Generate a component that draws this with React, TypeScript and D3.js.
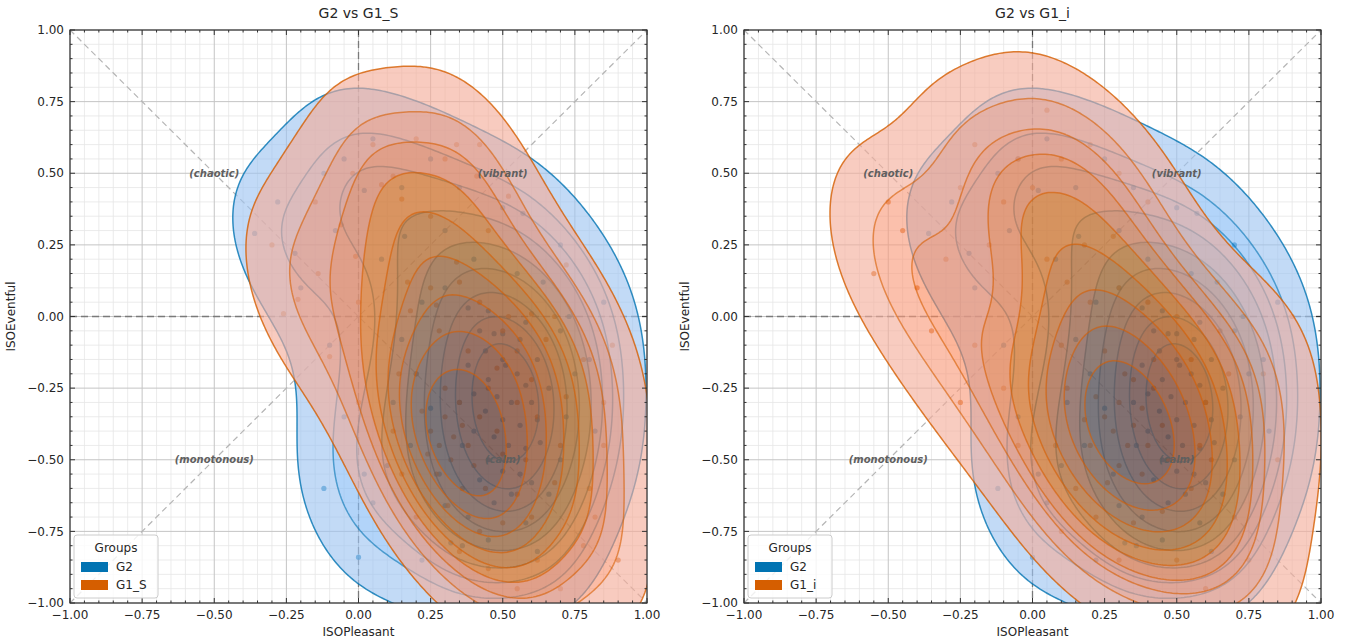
import React, { useEffect, useRef } from "react";
import * as d3 from "d3";

// scatter points: [ISOPleasant, ISOEventful]
const G2: [number, number][] = [
  [0.42, -0.05], [0.47, -0.06], [0.5, -0.06], [0.38, -0.17], [0.44, -0.12], [0.5, -0.15], [0.51, -0.17],
  [0.55, -0.2], [0.58, -0.24], [0.45, -0.22], [0.4, -0.27], [0.48, -0.28], [0.53, -0.3], [0.6, -0.3],
  [0.44, -0.33], [0.5, -0.36], [0.56, -0.38], [0.62, -0.36], [0.4, -0.4], [0.47, -0.42], [0.52, -0.45],
  [0.58, -0.46], [0.63, -0.44], [0.45, -0.5], [0.5, -0.54], [0.56, -0.55], [0.42, -0.57], [0.6, -0.58],
  [0.36, -0.45], [0.53, -0.62], [0.47, -0.65], [0.35, -0.3], [0.66, -0.25], [0.62, -0.15], [0.56, -0.08],
  [0.38, 0.03], [0.45, 0.02], [0.58, -0.02],
  [0.2, -0.2], [0.25, -0.32], [0.18, -0.45], [0.28, -0.55], [0.3, -0.66], [0.38, -0.7], [0.58, -0.72],
  [0.66, -0.62], [0.7, -0.5], [0.72, -0.35], [0.75, -0.2], [0.7, -0.05], [0.73, 0.0], [0.64, 0.12],
  [0.3, 0.1], [0.22, 0.05], [0.15, -0.08], [0.12, -0.3], [0.1, -0.52], [0.05, -0.65], [0.32, -0.79],
  [0.36, -0.8], [0.22, -0.85], [0.45, -0.78], [0.62, -0.82], [0.82, -0.4], [0.8, -0.15], [0.85, 0.05],
  [0.16, 0.28], [0.15, 0.45], [0.02, 0.44], [0.5, 0.38], [0.57, 0.36], [0.3, 0.3], [0.4, 0.2],
  [0.08, 0.2], [-0.05, 0.55], [0.25, 0.55], [0.7, 0.25], [0.35, 0.45], [0.55, 0.15], [-0.08, 0.3],
  [-0.36, 0.29], [-0.2, 0.1], [-0.1, -0.1], [-0.05, -0.35], [0.0, -0.84], [0.02, -0.55], [-0.12, -0.6],
  [-0.28, 0.4], [-0.22, 0.22], [-0.12, 0.5], [0.05, 0.62],
];

const G1_S: [number, number][] = [
  [0.3, -0.35], [0.33, -0.42], [0.36, -0.38], [0.38, -0.45], [0.28, -0.45], [0.32, -0.5], [0.4, -0.52],
  [0.25, -0.4], [0.22, -0.33], [0.35, -0.3], [0.42, -0.35], [0.45, -0.25], [0.3, -0.25], [0.27, -0.55],
  [0.36, -0.6], [0.44, -0.6], [0.5, -0.48], [0.48, -0.4], [0.24, -0.48], [0.31, -0.66],
  [0.2, -0.2], [0.18, 0.02], [0.25, 0.1], [0.35, 0.12], [0.42, 0.05], [0.5, -0.05], [0.55, -0.12],
  [0.6, -0.22], [0.62, -0.35], [0.58, -0.5], [0.55, -0.62], [0.6, -0.7], [0.5, -0.72], [0.42, -0.75],
  [0.35, -0.82], [0.45, -0.88], [0.62, -0.85], [0.68, -0.58], [0.7, -0.45], [0.72, -0.28], [0.65, -0.08],
  [0.15, -0.55], [0.12, -0.4], [0.14, -0.2], [0.2, -0.7], [0.55, -0.3], [0.48, -0.18], [0.38, -0.12],
  [0.28, -0.05], [0.52, 0.0],
  [0.34, 0.6], [0.41, 0.49], [0.12, 0.49], [0.08, 0.46], [0.15, 0.41], [-0.06, 0.32], [-0.01, 0.21],
  [0.17, 0.12], [0.34, 0.19], [0.27, 0.04], [0.72, 0.18], [0.68, 0.0], [0.6, 0.01], [0.25, 0.35],
  [0.05, 0.6], [0.45, 0.3], [0.2, 0.62], [0.0, 0.05], [0.3, 0.55], [-0.02, 0.5], [-0.15, 0.4],
  [0.42, 0.6], [0.52, 0.42],
  [-0.14, 0.15], [-0.21, 0.06], [-0.26, 0.01], [-0.1, -0.14], [-0.3, 0.25], [0.0, -0.3],
  [0.8, -0.6], [0.78, -0.8], [0.85, -0.3], [0.7, -0.95], [0.55, -0.95], [0.88, -0.1],
  [0.85, -0.45], [0.82, -0.7], [0.9, -0.85], [0.78, -0.15],
];

const G1_I: [number, number][] = [
  [0.3, -0.3], [0.35, -0.38], [0.38, -0.32], [0.28, -0.4], [0.33, -0.45], [0.4, -0.45], [0.25, -0.35],
  [0.22, -0.28], [0.35, -0.22], [0.42, -0.25], [0.3, -0.52], [0.38, -0.55], [0.45, -0.38], [0.2, -0.45],
  [0.26, -0.58], [0.32, -0.2], [0.18, -0.36], [0.47, -0.5], [0.42, -0.15], [0.25, -0.12],
  [0.1, -0.1], [0.12, -0.25], [0.08, -0.45], [0.15, -0.6], [0.22, -0.7], [0.35, -0.72], [0.45, -0.68],
  [0.55, -0.6], [0.58, -0.45], [0.6, -0.3], [0.55, -0.15], [0.5, 0.0], [0.4, 0.05], [0.3, 0.1],
  [0.2, 0.05], [0.12, 0.12], [0.05, 0.2], [0.18, 0.25], [0.28, 0.28], [0.65, -0.05], [0.68, -0.2],
  [0.7, -0.7], [0.5, -0.85], [0.3, -0.85], [0.62, -0.5],
  [-0.05, 0.55], [0.0, 0.45], [-0.1, 0.4], [0.1, 0.55], [0.2, 0.6], [0.3, 0.5], [-0.2, 0.6],
  [0.05, 0.72], [-0.15, 0.25], [-0.25, 0.45], [0.4, 0.4], [-0.3, 0.2],
  [-0.45, 0.3], [-0.55, 0.15], [-0.4, 0.1], [-0.35, -0.05], [-0.2, -0.1], [-0.1, -0.25], [-0.05, -0.45],
  [-0.5, 0.4], [-0.25, -0.3],
  [0.8, -0.2], [0.85, -0.5], [0.75, -0.85], [0.9, 0.0], [0.6, -0.95], [0.1, -0.75],
];

const PANEL_TITLES = ["G2 vs G1_S", "G2 vs G1_i"];
const SECOND_NAMES = ["G1_S", "G1_i"];
const SECOND_POINTS = [G1_S, G1_I];
const QUADRANTS: [string, number, number][] = [
  ["(chaotic)", -0.5, 0.5],
  ["(vibrant)", 0.5, 0.5],
  ["(monotonous)", -0.5, -0.5],
  ["(calm)", 0.5, -0.5],
];

const BLUE = "#0173B2";
const ORANGE = "#D55E00";
const FONT = "DejaVu Sans, sans-serif";

const W = 1347;
const H = 640;
const PANEL_LEFT = [70, 744];
const PLOT_W = 577;
const PLOT_TOP = 30;
const PLOT_H = 573;

// kde grid
const NG = 220;
const LO = -1.1;
const HI = 1.1;
const BW_ADJUST = 1.2;
const FILL_ALPHA = 0.62;

// --- husl, as seaborn uses it for its fill colormap ---
const M = [
  [3.240969941904521, -1.537383177570093, -0.498610760293],
  [-0.96924363628087, 1.87596750150772, 0.041555057407175],
  [0.055630079696993, -0.20397695888897, 1.056971514242878],
];
const MINV = [
  [0.41239079926595, 0.35758433938387, 0.18048078840183],
  [0.21263900587151, 0.71516867876775, 0.072192315360733],
  [0.019330818715591, 0.11919477979462, 0.95053215224966],
];
const REF_U = 0.19783000664283;
const REF_V = 0.46831999493879;
const KAPPA = 903.2962962;
const EPS = 0.0088564516;

function maxChroma(L: number, Hdeg: number) {
  const h = (Hdeg / 360) * Math.PI * 2;
  const sub1 = Math.pow(L + 16, 3) / 1560896;
  const sub2 = sub1 > EPS ? sub1 : L / KAPPA;
  let min = Infinity;
  for (const [m1, m2, m3] of M) {
    for (const t of [0, 1]) {
      const top1 = (284517 * m1 - 94839 * m3) * sub2;
      const top2 = (838422 * m3 + 769860 * m2 + 731718 * m1) * L * sub2 - 769860 * t * L;
      const bottom = (632260 * m3 - 126452 * m2) * sub2 + 126452 * t;
      const len = top2 / bottom / (Math.sin(h) - (top1 / bottom) * Math.cos(h));
      if (len >= 0) min = Math.min(min, len);
    }
  }
  return min;
}

const toLin = (c: number) => (c > 0.04045 ? Math.pow((c + 0.055) / 1.055, 2.4) : c / 12.92);
const fromLin = (c: number) => (c <= 0.0031308 ? 12.92 * c : 1.055 * Math.pow(c, 1 / 2.4) - 0.055);

function rgbToHusl(hex: string) {
  const c = d3.rgb(hex);
  const lin = [toLin(c.r / 255), toLin(c.g / 255), toLin(c.b / 255)];
  const [X, Y, Z] = MINV.map((r) => r[0] * lin[0] + r[1] * lin[1] + r[2] * lin[2]);
  const L = Y <= EPS ? Y * KAPPA : 116 * Math.cbrt(Y) - 16;
  const d = X + 15 * Y + 3 * Z;
  const U = 13 * L * ((4 * X) / d - REF_U);
  const V = 13 * L * ((9 * Y) / d - REF_V);
  let Hd = (Math.atan2(V, U) * 180) / Math.PI;
  if (Hd < 0) Hd += 360;
  return [Hd, (Math.hypot(U, V) / maxChroma(L, Hd)) * 100, L];
}

function huslToHex(Hd: number, S: number, L: number) {
  const C = (maxChroma(L, Hd) / 100) * S;
  const h = (Hd / 180) * Math.PI;
  const U = C * Math.cos(h);
  const V = C * Math.sin(h);
  const Y = L <= 8 ? L / KAPPA : Math.pow((L + 16) / 116, 3);
  const vu = U / (13 * L) + REF_U;
  const vv = V / (13 * L) + REF_V;
  const X = -(9 * Y * vu) / ((vu - 4) * vv - vu * vv);
  const Z = (9 * Y - 15 * vv * Y - vv * X) / (3 * vv);
  const [r, g, b] = M.map((m) => Math.max(0, Math.min(1, fromLin(m[0] * X + m[1] * Y + m[2] * Z))));
  return d3.rgb(r * 255, g * 255, b * 255).formatHex();
}

// seaborn _cmap_from_color: light (low density) to dark (high density)
function cmapFromColor(hex: string) {
  const [h, s] = rgbToHusl(hex);
  return (u: number) => {
    const j = Math.round((1 - u) * 255);
    const xx = -1 + (2 * j) / 293;
    return huslToHex(h, s * Math.cos(xx), 35 + (45 * j) / 255);
  };
}

// gaussian kde (scott's rule, full covariance), evaluated on a grid, row 0 at the top
function kdeGrid(points: [number, number][]) {
  const n = points.length;
  const mx = d3.mean(points, (p) => p[0])!;
  const my = d3.mean(points, (p) => p[1])!;
  let sxx = 0, syy = 0, sxy = 0;
  for (const [x, y] of points) {
    sxx += (x - mx) ** 2;
    syy += (y - my) ** 2;
    sxy += (x - mx) * (y - my);
  }
  const f2 = (Math.pow(n, -1 / 6) * BW_ADJUST) ** 2;
  const a = (sxx / (n - 1)) * f2, b = (sxy / (n - 1)) * f2, c = (syy / (n - 1)) * f2;
  const det = a * c - b * b;
  const ia = c / det, ib = -b / det, ic = a / det;
  const step = (HI - LO) / NG;
  const values = new Array(NG * NG);
  for (let j = 0; j < NG; j++) {
    const y = HI - (j + 0.5) * step;
    for (let i = 0; i < NG; i++) {
      const x = LO + (i + 0.5) * step;
      let s = 0;
      for (const [px, py] of points) {
        const dx = x - px, dy = y - py;
        s += Math.exp(-0.5 * (ia * dx * dx + 2 * ib * dx * dy + ic * dy * dy));
      }
      values[j * NG + i] = s;
    }
  }
  return values;
}

// iso-proportion levels (thresh 0.05, 10 levels), mass counted inside the clip box
function isoLevels(values: number[]) {
  const step = (HI - LO) / NG;
  const inside: number[] = [];
  for (let j = 0; j < NG; j++) {
    const y = HI - (j + 0.5) * step;
    for (let i = 0; i < NG; i++) {
      const x = LO + (i + 0.5) * step;
      if (Math.abs(x) <= 1 && Math.abs(y) <= 1) inside.push(values[j * NG + i]);
    }
  }
  inside.sort((p, q) => q - p);
  const total = d3.sum(inside);
  const cum: number[] = [];
  let acc = 0;
  for (const v of inside) cum.push((acc += v) / total);
  const props = d3.range(10).map((i) => 0.05 + (i * 0.95) / 9);
  return props.map((p) => {
    const idx = Math.min(inside.length - 1, d3.bisectLeft(cum, 1 - p));
    return inside[idx];
  });
}

const App = () => {
  const svgRef = useRef<SVGSVGElement | null>(null);

  useEffect(() => {
    if (!svgRef.current) return;
    const svg = d3.select(svgRef.current);
    svg.selectAll("*").remove();

    const g2Grid = kdeGrid(G2);
    const g2Levels = isoLevels(g2Grid);

    PANEL_LEFT.forEach((left, pi) => {
      const x = d3.scaleLinear().domain([-1, 1]).range([left, left + PLOT_W]);
      const y = d3.scaleLinear().domain([-1, 1]).range([PLOT_TOP + PLOT_H, PLOT_TOP]);
      const g = svg.append("g");
      const clipId = `clip-${pi}`;
      g.append("clipPath").attr("id", clipId).append("rect")
        .attr("x", left).attr("y", PLOT_TOP).attr("width", PLOT_W).attr("height", PLOT_H);

      g.append("rect").attr("x", left).attr("y", PLOT_TOP).attr("width", PLOT_W).attr("height", PLOT_H)
        .attr("fill", "white");

      const majors = d3.range(-1, 1.0001, 0.25);
      const minors = d3.range(-1, 1.0001, 0.05).filter((v) => Math.abs(v / 0.25 - Math.round(v / 0.25)) > 1e-6);

      // grid
      const grid = g.append("g");
      minors.forEach((v) => {
        grid.append("line").attr("x1", x(v)).attr("x2", x(v)).attr("y1", PLOT_TOP).attr("y2", PLOT_TOP + PLOT_H)
          .attr("stroke", "#e6e6e6").attr("stroke-width", 0.8);
        grid.append("line").attr("y1", y(v)).attr("y2", y(v)).attr("x1", left).attr("x2", left + PLOT_W)
          .attr("stroke", "#e6e6e6").attr("stroke-width", 0.8);
      });
      majors.forEach((v) => {
        grid.append("line").attr("x1", x(v)).attr("x2", x(v)).attr("y1", PLOT_TOP).attr("y2", PLOT_TOP + PLOT_H)
          .attr("stroke", "#c4c4c4").attr("stroke-width", 1);
        grid.append("line").attr("y1", y(v)).attr("y2", y(v)).attr("x1", left).attr("x2", left + PLOT_W)
          .attr("stroke", "#c4c4c4").attr("stroke-width", 1);
      });

      // reference lines
      g.append("line").attr("x1", x(-1)).attr("y1", y(1)).attr("x2", x(1)).attr("y2", y(-1))
        .attr("stroke", "#b5b5b5").attr("stroke-width", 1.2).attr("stroke-dasharray", "6,4");
      g.append("line").attr("x1", x(-1)).attr("y1", y(-1)).attr("x2", x(1)).attr("y2", y(1))
        .attr("stroke", "#b5b5b5").attr("stroke-width", 1.2).attr("stroke-dasharray", "6,4");
      g.append("line").attr("x1", x(0)).attr("y1", y(1)).attr("x2", x(0)).attr("y2", y(-1))
        .attr("stroke", "#7a7a7a").attr("stroke-width", 1.3).attr("stroke-dasharray", "7,4");
      g.append("line").attr("x1", x(-1)).attr("y1", y(0)).attr("x2", x(1)).attr("y2", y(0))
        .attr("stroke", "#7a7a7a").attr("stroke-width", 1.3).attr("stroke-dasharray", "7,4");

      const data = g.append("g").attr("clip-path", `url(#${clipId})`);

      const groups: { pts: [number, number][]; color: string; grid: number[]; levels: number[] }[] = [
        { pts: G2, color: BLUE, grid: g2Grid, levels: g2Levels },
      ];
      const secondGrid = kdeGrid(SECOND_POINTS[pi]);
      groups.push({ pts: SECOND_POINTS[pi], color: ORANGE, grid: secondGrid, levels: isoLevels(secondGrid) });

      // scatter under the densities
      groups.forEach((grp) => {
        data.append("g").selectAll("circle").data(grp.pts).join("circle")
          .attr("cx", (d) => x(d[0])).attr("cy", (d) => y(d[1])).attr("r", 2.6)
          .attr("fill", grp.color).attr("opacity", 0.75);
      });

      const gx = d3.scaleLinear().domain([0, NG]).range([LO, HI]);
      const gy = d3.scaleLinear().domain([0, NG]).range([HI, LO]);
      const path = d3.geoPath(
        d3.geoTransform({
          point(px: number, py: number) {
            (this as any).stream.point(x(gx(px)), y(gy(py)));
          },
        })
      );

      groups.forEach((grp) => {
        const cmap = cmapFromColor(grp.color);
        const lv = grp.levels;
        const contours = d3.contours().size([NG, NG]).thresholds(lv)(grp.grid);
        const fills = data.append("g").attr("opacity", FILL_ALPHA);
        contours.slice(0, lv.length - 1).forEach((c, k) => {
          const u = ((lv[k] + lv[k + 1]) / 2 - lv[0]) / (lv[lv.length - 1] - lv[0]);
          fills.append("path").attr("d", path(c as any)).attr("fill", cmap(u));
        });
        const lines = data.append("g");
        contours.forEach((c, k) => {
          lines.append("path").attr("d", path(c as any)).attr("fill", "none")
            .attr("stroke", grp.color).attr("stroke-width", 1.5)
            .attr("stroke-opacity", k === 0 ? 0.8 : 0.6);
        });
      });

      // quadrant labels
      QUADRANTS.forEach(([label, qx, qy]) => {
        g.append("text").attr("x", x(qx)).attr("y", y(qy)).attr("dy", "0.35em")
          .attr("text-anchor", "middle").attr("font-family", FONT).attr("font-size", 10)
          .attr("font-weight", "bold").attr("font-style", "italic").attr("fill", "#5f5f5f")
          .text(label);
      });

      // spines and inward ticks
      const ax = g.append("g").attr("stroke", "#333").attr("stroke-width", 1);
      const ticks = (vals: number[], len: number) => {
        vals.forEach((v) => {
          ax.append("line").attr("x1", x(v)).attr("x2", x(v)).attr("y1", PLOT_TOP + PLOT_H).attr("y2", PLOT_TOP + PLOT_H - len);
          ax.append("line").attr("x1", x(v)).attr("x2", x(v)).attr("y1", PLOT_TOP).attr("y2", PLOT_TOP + len);
          ax.append("line").attr("y1", y(v)).attr("y2", y(v)).attr("x1", left).attr("x2", left + len);
          ax.append("line").attr("y1", y(v)).attr("y2", y(v)).attr("x1", left + PLOT_W).attr("x2", left + PLOT_W - len);
        });
      };
      ticks(majors, 5);
      ticks(minors, 2.5);
      g.append("rect").attr("x", left).attr("y", PLOT_TOP).attr("width", PLOT_W).attr("height", PLOT_H)
        .attr("fill", "none").attr("stroke", "#333").attr("stroke-width", 1.2);

      const fmt = d3.format(".2f");
      majors.forEach((v) => {
        g.append("text").attr("x", x(v)).attr("y", PLOT_TOP + PLOT_H + 16).attr("text-anchor", "middle")
          .attr("font-family", FONT).attr("font-size", 12).attr("fill", "#262626").text(fmt(v));
        g.append("text").attr("x", left - 6).attr("y", y(v)).attr("dy", "0.35em").attr("text-anchor", "end")
          .attr("font-family", FONT).attr("font-size", 12).attr("fill", "#262626").text(fmt(v));
      });

      g.append("text").attr("x", left + PLOT_W / 2).attr("y", PLOT_TOP + PLOT_H + 33).attr("text-anchor", "middle")
        .attr("font-family", FONT).attr("font-size", 12).attr("fill", "#262626").text("ISOPleasant");
      g.append("text").attr("transform", `translate(${left - 55},${PLOT_TOP + PLOT_H / 2}) rotate(-90)`)
        .attr("text-anchor", "middle").attr("font-family", FONT).attr("font-size", 12).attr("fill", "#262626")
        .text("ISOEventful");
      g.append("text").attr("x", left + PLOT_W / 2).attr("y", PLOT_TOP - 12).attr("text-anchor", "middle")
        .attr("font-family", FONT).attr("font-size", 14).attr("fill", "#262626").text(PANEL_TITLES[pi]);

      // legend
      const lg = g.append("g").attr("transform", `translate(${left + 4},${535})`);
      lg.append("rect").attr("width", 84).attr("height", 63).attr("rx", 3)
        .attr("fill", "white").attr("fill-opacity", 0.8).attr("stroke", "#cccccc");
      lg.append("text").attr("x", 42).attr("y", 17).attr("text-anchor", "middle")
        .attr("font-family", FONT).attr("font-size", 12).attr("fill", "#262626").text("Groups");
      [["G2", BLUE], [SECOND_NAMES[pi], ORANGE]].forEach(([name, col], i) => {
        lg.append("rect").attr("x", 7).attr("y", 27 + i * 18).attr("width", 27).attr("height", 10).attr("fill", col);
        lg.append("text").attr("x", 42).attr("y", 36 + i * 18).attr("font-family", FONT).attr("font-size", 12)
          .attr("fill", "#262626").text(name);
      });
    });
  }, []);

  return (
    <div style={{ position: "absolute", left: 0, top: 0 }}>
      <svg ref={svgRef} width={W} height={H} style={{ display: "block", background: "white" }} />
    </div>
  );
};

export default App;
